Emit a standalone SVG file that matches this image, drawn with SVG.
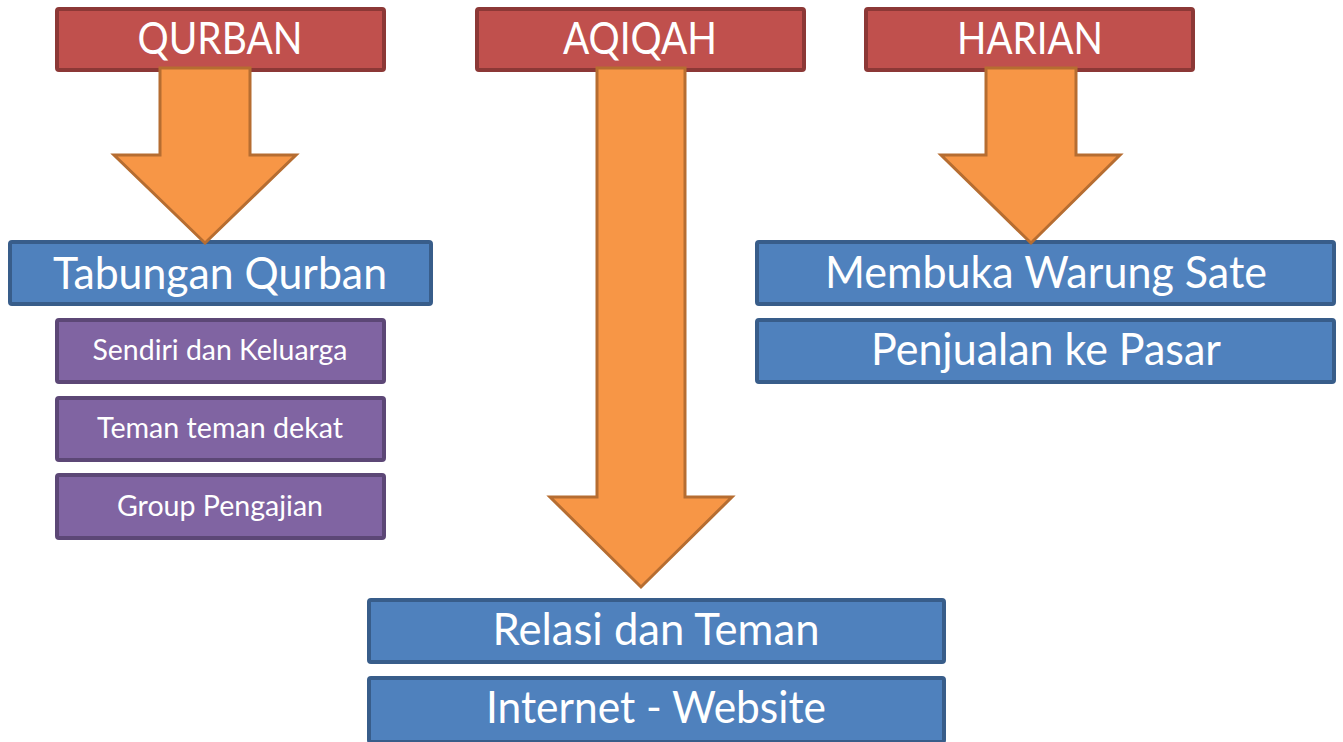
<svg xmlns="http://www.w3.org/2000/svg" width="1343" height="742" viewBox="0 0 1343 742">
<style>
.red{fill:#c0504d;stroke:#8c3836;stroke-width:4}
.blue{fill:#4f81bd;stroke:#385d8a;stroke-width:4}
.purple{fill:#8064a2;stroke:#5c4776;stroke-width:4}
.arrow{fill:#f79646;stroke:#b66d31;stroke-width:3;stroke-linejoin:miter}
text{font-family:Lato,"Open Sans","Liberation Sans",sans-serif;fill:#ffffff;text-anchor:middle}
.big{font-size:44px}
.small{font-size:29px}
</style>
<rect width="1343" height="742" fill="#ffffff"/>
<g id="qurban"><rect class="red" x="57" y="9" width="327" height="61" rx="2"/><text class="big" x="220" y="54" textLength="165" lengthAdjust="spacingAndGlyphs">QURBAN</text></g>
<g id="aqiqah"><rect class="red" x="477" y="9" width="327" height="61" rx="2"/><text class="big" x="640" y="54" textLength="154" lengthAdjust="spacingAndGlyphs">AQIQAH</text></g>
<g id="harian"><rect class="red" x="866" y="9" width="327" height="61" rx="2"/><text class="big" x="1030" y="54" textLength="146" lengthAdjust="spacingAndGlyphs">HARIAN</text></g>
<g id="tabungan"><rect class="blue" x="10" y="242" width="421" height="62" rx="2"/><text class="big" x="220" y="289" textLength="334" lengthAdjust="spacingAndGlyphs">Tabungan Qurban</text></g>
<g id="sendiri"><rect class="purple" x="57" y="320" width="327" height="62" rx="2"/><text class="small" x="220" y="360" textLength="255" lengthAdjust="spacingAndGlyphs">Sendiri dan Keluarga</text></g>
<g id="teman"><rect class="purple" x="57" y="398" width="327" height="62" rx="2"/><text class="small" x="220" y="438" textLength="246" lengthAdjust="spacingAndGlyphs">Teman teman dekat</text></g>
<g id="group"><rect class="purple" x="57" y="475" width="327" height="63" rx="2"/><text class="small" x="220" y="516" textLength="206" lengthAdjust="spacingAndGlyphs">Group Pengajian</text></g>
<g id="relasi"><rect class="blue" x="369" y="600" width="575" height="62" rx="2"/><text class="big" x="656" y="645" textLength="327" lengthAdjust="spacingAndGlyphs">Relasi dan Teman</text></g>
<g id="internet"><rect class="blue" x="369" y="678" width="575" height="64" rx="2"/><text class="big" x="656" y="723" textLength="340" lengthAdjust="spacingAndGlyphs">Internet - Website</text></g>
<g id="membuka"><rect class="blue" x="757" y="242" width="577" height="62" rx="2"/><text class="big" x="1046" y="288" textLength="442" lengthAdjust="spacingAndGlyphs">Membuka Warung Sate</text></g>
<g id="penjualan"><rect class="blue" x="757" y="320" width="577" height="62" rx="2"/><text class="big" x="1046" y="365" textLength="350" lengthAdjust="spacingAndGlyphs">Penjualan ke Pasar</text></g>
<g id="connectors">
<polygon class="arrow" points="160,68 250,68 250,155 296,155 205,243 114,155 160,155"/>
<polygon class="arrow" points="597,68 685,68 685,497 732,497 641,587 550,497 597,497"/>
<polygon class="arrow" points="986,68 1076,68 1076,155 1120,155 1031,243 941,155 986,155"/>
</g>
</svg>
